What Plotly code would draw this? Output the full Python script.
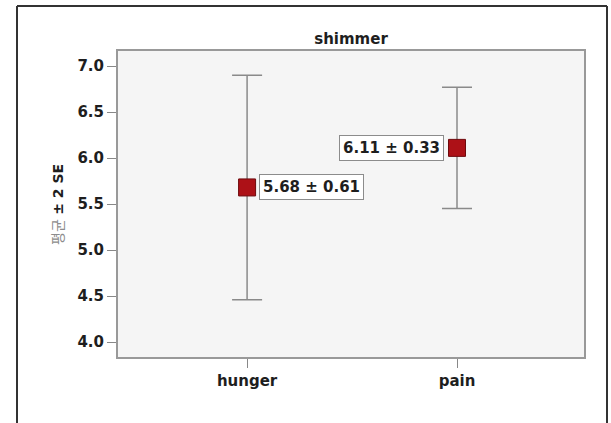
import plotly.graph_objects as go

categories = ["hunger", "pain"]
means = [5.68, 6.11]
se = [0.61, 0.33]
title_text = "shimmer"
y_title = "<span style='color:#8c8c8c;font-weight:normal'>평균</span> <b>± 2 SE</b>"
y_ticks = [4.0, 4.5, 5.0, 5.5, 6.0, 6.5, 7.0]

err = [2 * s for s in se]
labels = [f"{m:.2f} ± {s:.2f}" for m, s in zip(means, se)]

W, H = 611, 423
L, R, T, B = 118, 27, 51, 66
pw, ph = W - L - R, H - T - B

def px_x(p):
    return (p - L) / pw

def px_y(p):
    return (H - B - p) / ph

FONT = "DejaVu Sans, Noto Sans CJK KR, sans-serif"
TXT = "#1e1e1e"

fig = go.Figure()
fig.add_trace(go.Scatter(
    x=categories, y=means, mode="markers",
    marker=dict(symbol="square", size=17, color="#ad1117",
                line=dict(color="#6e0a0d", width=1)),
    error_y=dict(type="data", array=err, visible=True,
                 color="#8a8a8a", thickness=1.5, width=15),
    showlegend=False, hoverinfo="skip",
))

fig.add_annotation(x=categories[0], y=means[0], text=labels[0],
                   xanchor="left", yanchor="middle", xshift=12, showarrow=False,
                   bgcolor="white", bordercolor="#8c8c8c", borderwidth=1, borderpad=3,
                   font=dict(family=FONT, size=15, color=TXT, weight="bold"))
fig.add_annotation(x=categories[1], y=means[1], text=labels[1],
                   xanchor="right", yanchor="middle", xshift=-13, showarrow=False,
                   bgcolor="white", bordercolor="#8c8c8c", borderwidth=1, borderpad=3,
                   font=dict(family=FONT, size=15, color=TXT, weight="bold"))

# Y axis title
fig.add_annotation(xref="paper", yref="paper", x=px_x(58), y=px_y(205),
                   text=y_title, textangle=-90, showarrow=False,
                   xanchor="center", yanchor="middle",
                   font=dict(family=FONT, size=14, color=TXT))

# Outer frame
frame = dict(color="#333333", width=2)
fig.add_shape(type="line", xref="paper", yref="paper",
              x0=px_x(17), x1=px_x(607), y0=px_y(6), y1=px_y(6), line=frame)
fig.add_shape(type="line", xref="paper", yref="paper",
              x0=px_x(17), x1=px_x(17), y0=px_y(6), y1=px_y(430), line=frame)
fig.add_shape(type="line", xref="paper", yref="paper",
              x0=px_x(607), x1=px_x(607), y0=px_y(6), y1=px_y(430), line=frame)

fig.update_layout(
    width=W, height=H,
    margin=dict(l=L, r=R, t=T, b=B),
    paper_bgcolor="white", plot_bgcolor="#f5f5f5",
    title=dict(text=title_text, x=0.5, xref="paper", y=1 - 39 / H, yanchor="middle",
               font=dict(family=FONT, size=15, color=TXT, weight="bold")),
    font=dict(family=FONT),
)
fig.update_xaxes(
    type="category", range=[-0.615, 1.605],
    showgrid=False, zeroline=False,
    showline=True, linecolor="#999999", linewidth=2, mirror=True,
    ticks="outside", ticklen=9, tickcolor="#888888", tickwidth=1,
    tickfont=dict(family=FONT, size=15, color=TXT, weight="bold"),
)
fig.update_yaxes(
    range=[3.837, 7.163], tickvals=y_ticks, ticktext=[f"{v:.1f}" for v in y_ticks],
    showgrid=False, zeroline=False,
    showline=True, linecolor="#999999", linewidth=2, mirror=True,
    ticks="outside", ticklen=9, tickcolor="#888888", tickwidth=1,
    tickfont=dict(family=FONT, size=15, color=TXT, weight="bold"),
)

fig.write_html("out.html", config={"displayModeBar": False},
               post_script="document.body.style.margin='0';document.body.style.overflow='hidden';")
